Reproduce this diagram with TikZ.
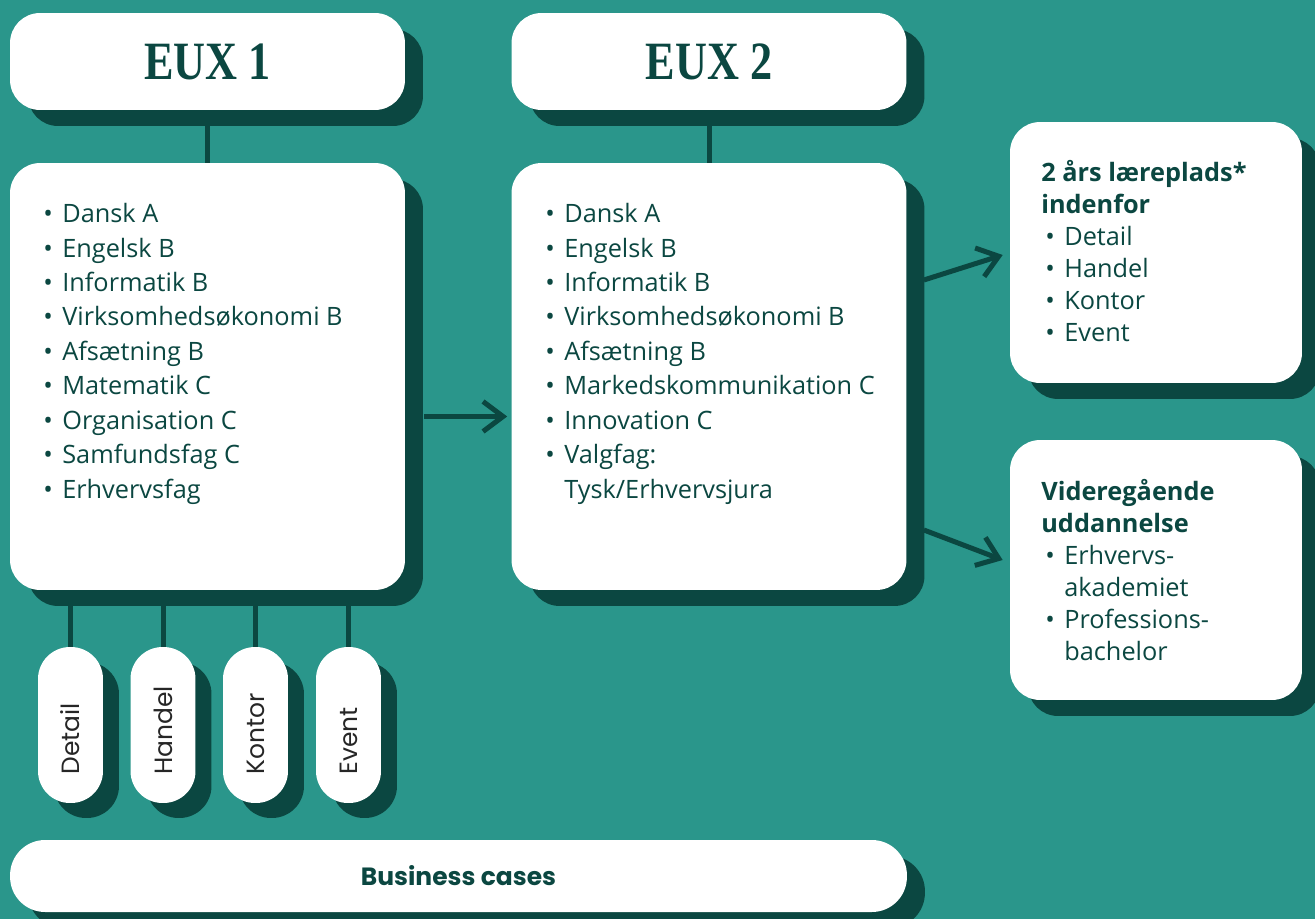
\documentclass[tikz,border=0pt]{standalone}
\usepackage{fontspec}
\setmainfont{Open Sans}
\newfontfamily\pillfont{Poppins}
\newfontfamily\euxfont[FakeStretch = 0.82]{Liberation Serif}
\usetikzlibrary{arrows.meta, shadows}

\definecolor{euxteal}{HTML}{2A968B}
\definecolor{euxdark}{HTML}{0B4741}

\newcommand{\itembul}{\makebox[0.38cm][l]{\textbullet}}

\tikzset{
    card/.style = {fill = white, rounded corners = 0.6cm, inner sep = 0pt,
        general shadow = {shadow xshift = 0.36cm, shadow yshift = -0.32cm, fill = euxdark}},
    header/.style = {card, minimum width = 7.9cm, minimum height = 1.94cm, text = euxdark,
        font = \euxfont\bfseries\fontsize{30.7}{30.7}\selectfont},
    subjects/.style = {align = left, inner sep = 0pt, text = euxdark, anchor = north west,
        font = \fontsize{14.4}{19.6}\selectfont},
    outcome/.style = {subjects, font = \fontsize{14.4}{18.2}\selectfont},
    pill/.style = {fill = white, rounded corners = 0.64cm, inner sep = 0pt,
        minimum width = 1.3cm, minimum height = 3.12cm, text = black!85,
        font = \pillfont\fontsize{14.2}{14.2}\selectfont,
        general shadow = {shadow xshift = 0.32cm, shadow yshift = -0.3cm, fill = euxdark}},
    link/.style = {draw = euxdark, line width = 0.1cm},
    flow/.style = {draw = euxdark, line width = 0.1cm,
        -{Straight Barb[length = 0.4cm, width = 0.6cm]}}
}

\begin{document}
\begin{tikzpicture}[x = 0.02cm, y = -0.02cm]
    % Draw the background:
    \useasboundingbox (0,0) rectangle (1315,919);
    \clip (0,0) rectangle (1315,919);
    \fill [euxteal] (0,0) rectangle (1315,919);

    % Draw the two years:
    \node [header] (eux1) at (207.5,61.5) {EUX 1};
    \node [header] (eux2) at (709,61.5) {EUX 2};
    \node [card, minimum width = 7.9cm, minimum height = 8.54cm] (body1) at (207.5,376.5) {};
    \node [card, minimum width = 7.9cm, minimum height = 8.54cm] (body2) at (709,376.5) {};
    \draw [link] (eux1) -- (body1);
    \draw [link] (eux2) -- (body2);

    \node [subjects] (list1) at (43,203) {%
        \itembul Dansk A\\ \itembul Engelsk B\\ \itembul Informatik B\\
        \itembul Virksomhedsøkonomi B\\ \itembul Afsætning B\\ \itembul Matematik C\\
        \itembul Organisation C\\ \itembul Samfundsfag C\\ \itembul Erhvervsfag};
    \node [subjects] (list2) at (545,203) {%
        \itembul Dansk A\\ \itembul Engelsk B\\ \itembul Informatik B\\
        \itembul Virksomhedsøkonomi B\\ \itembul Afsætning B\\
        \itembul Markedskommunikation C\\ \itembul Innovation C\\
        \itembul Valgfag:\\ \hphantom{\itembul}Tysk/Erhvervsjura};

    % Draw the tracks below EUX 1:
    \foreach \track/\x [count = \i] in {Detail/70.5, Handel/163, Kontor/255.5, Event/348.5} {
        \node [pill] (track\i) at (\x,725) {\rotatebox{90}{\makebox[1.98cm][l]{\track}}};
        \draw [link] (track\i.north) -- (track\i.north |- body1.south);
    }

    % Draw what follows:
    \node [card, minimum width = 5.84cm, minimum height = 5.22cm] (job) at (1156,252.5) {};
    \node [card, minimum width = 5.84cm, minimum height = 5.2cm] (study) at (1156,570) {};
    \node [outcome] (jobtext) at (1041,160) {%
        \textbf{2 års læreplads*}\\ \textbf{indenfor}\\
        \hspace*{0.08cm}\itembul Detail\\ \hspace*{0.08cm}\itembul Handel\\
        \hspace*{0.08cm}\itembul Kontor\\ \hspace*{0.08cm}\itembul Event};
    \node [outcome] (studytext) at (1041,479) {%
        \textbf{Videregående}\\ \textbf{uddannelse}\\
        \hspace*{0.08cm}\itembul Erhvervs-\\ \hspace*{0.08cm}\hphantom{\itembul}akademiet\\
        \hspace*{0.08cm}\itembul Professions-\\ \hspace*{0.08cm}\hphantom{\itembul}bachelor};

    \draw [flow] ([shift = {(0.38cm,-0.8cm)}]body1.east) -- ([shift = {(-0.08cm,-0.8cm)}]body2.west);
    \draw [flow] ([shift = {(0.34cm,1.93cm)}]body2.east) -- ([shift = {(-0.14cm,-0.05cm)}]job.west);
    \draw [flow] ([shift = {(0.34cm,-3.07cm)}]body2.east) -- ([shift = {(-0.14cm,0.2cm)}]study.west);

    % Draw the business cases:
    \node [card, rounded corners = 0.7cm, minimum width = 17.94cm, minimum height = 1.44cm,
        text = euxdark, font = \pillfont\bfseries\fontsize{14.2}{14.2}\selectfont] (cases) at (458.5,876) {Business cases};
\end{tikzpicture}
\end{document}
